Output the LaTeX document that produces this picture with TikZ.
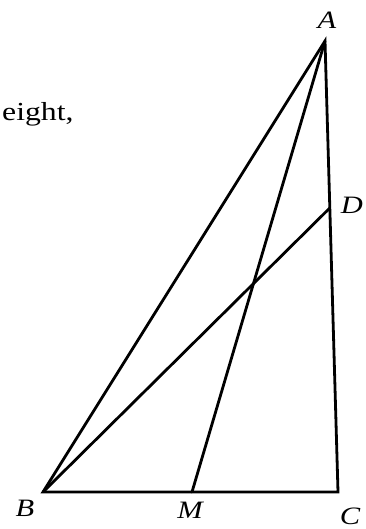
\documentclass[tikz,border=0pt]{standalone}
\usepackage{fontspec}
\setmainfont{Liberation Serif}[FakeStretch=1.22]
\usetikzlibrary{positioning}

\begin{document}
\begin{tikzpicture}[x=1pt,y=-1pt,
  seg/.style={line width=2.8pt,line join=miter,line cap=round},
  vlabel/.style={font=\fontsize{25}{29}\selectfont\itshape,inner sep=0pt}]
\useasboundingbox (0,0) rectangle (366,529);
% vertices
\coordinate (A) at (325,41);
\coordinate (B) at (43,492);
\coordinate (C) at (338,492);
\coordinate (M) at (192,492);
\coordinate (D) at (329.8,208);
% triangle and cevians
\draw[seg] (A) -- (B) -- (C) -- cycle;
\draw[seg] (A) -- (M);
\draw[seg] (B) -- (D);
% labels
\node[vlabel] (lA) at (327,20) {A};
\node[vlabel] (lD) at (352,205) {D};
\node[vlabel] (lB) at (25,508) {B};
\node[vlabel] (lM) at (190,510) {M};
\node[vlabel] (lC) at (350,516) {C};
% text fragment
\node[font=\fontsize{26}{30}\selectfont,anchor=base west,inner sep=0pt] (txt) at (2,121) {eight,};
\end{tikzpicture}
\end{document}
